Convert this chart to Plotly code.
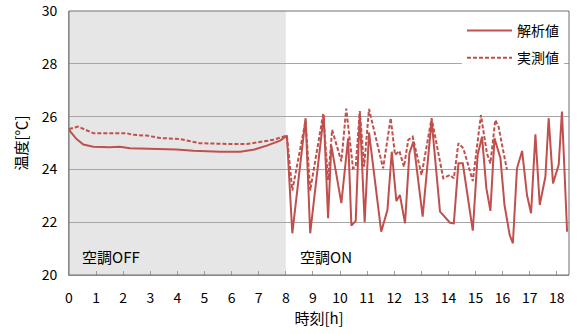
import plotly.graph_objects as go

# ---- data ----
calc_time = [0, 0.28, 0.53, 0.9, 1.5, 1.88, 2.25, 3.36, 3.97, 4.59, 5.57, 6.31, 6.8, 7.3, 7.79, 8.04,
             8.24, 8.73, 8.90, 9.40, 9.56, 9.68, 10.05, 10.30, 10.42, 10.58, 10.73, 10.91, 11.07, 11.52,
             11.75, 11.91, 12.08, 12.21, 12.40, 12.56, 12.71, 13.05, 13.38, 13.69, 14.06, 14.20, 14.37,
             14.53, 14.90, 15.08, 15.24, 15.40, 15.55, 15.70, 15.92, 16.07, 16.26, 16.38, 16.53, 16.72,
             16.90, 17.05, 17.21, 17.37, 17.58, 17.70, 17.86, 18.07, 18.19, 18.38]
calc_temp = [25.5, 25.15, 24.94, 24.86, 24.84, 24.86, 24.8, 24.78, 24.75, 24.71, 24.67, 24.67, 24.74, 24.9, 25.09, 25.28,
             21.58, 25.94, 21.58, 26.06, 22.15, 24.9, 22.72, 25.18, 21.87, 22.05, 26.13, 22.0, 25.4, 21.64,
             22.46, 24.67, 22.8, 23.03, 21.96, 24.61, 25.05, 22.21, 25.87, 22.4, 21.98, 21.96, 24.23,
             24.23, 21.68, 24.55, 25.24, 23.29, 22.43, 25.18, 24.42, 22.65, 21.52, 21.2, 24.04, 24.7,
             23.03, 22.34, 25.33, 22.65, 23.73, 25.94, 23.47, 24.17, 26.19, 21.64]

meas_time = [0, 0.34, 0.9, 2.13, 2.36, 2.87, 3.36, 4.1, 4.83, 5.57, 6.06, 6.56, 7.05, 7.54, 8.04,
             8.24, 8.73, 8.90, 9.38, 9.56, 9.71, 10.05, 10.23, 10.48, 10.58, 10.73, 10.89, 11.07, 11.59,
             11.87, 12.03, 12.19, 12.36, 12.52, 12.68, 13.01, 13.38, 13.81, 14.06, 14.20, 14.37, 14.55,
             14.90, 15.20, 15.42, 15.55, 15.73, 15.85, 16.16]
meas_temp = [25.53, 25.62, 25.37, 25.37, 25.31, 25.28, 25.19, 25.15, 24.99, 24.96, 24.96, 24.96, 25.03, 25.12, 25.28,
             23.2, 25.85, 23.2, 26.1, 23.6, 25.5, 24.3, 26.3, 24.04, 24.1, 26.21, 24.1, 26.29, 24.04,
             25.94, 24.55, 24.7, 24.1, 25.12, 25.24, 23.79, 25.94, 23.66, 23.79, 23.66, 24.99, 24.8,
             23.56, 26.06, 24.61, 24.23, 25.87, 25.62, 23.98]

x_ticks = list(range(0, 19))
y_ticks = [20, 22, 24, 26, 28, 30]
ac_off_end = 8
series_names = ["解析値", "実測値"]
labels = ["空調OFF", "空調ON"]

RED = "#c0504d"
FONT = "Noto Sans CJK JP"

fig = go.Figure()
fig.add_trace(go.Scatter(x=calc_time, y=calc_temp, mode="lines", name=series_names[0],
                         line=dict(color=RED, width=2), legendgroup="a"))
fig.add_trace(go.Scatter(x=meas_time, y=meas_temp, mode="lines", name=series_names[1],
                         line=dict(color=RED, width=2, dash="4px,2px"), legendgroup="b"))

# AC-off shaded zone
fig.add_shape(type="rect", xref="x", yref="paper", x0=0, x1=ac_off_end, y0=0, y1=1,
              fillcolor="#e6e6e6", line_width=0, layer="below")
# plot-area border
fig.add_shape(type="rect", xref="paper", yref="paper", x0=0, x1=1, y0=0, y1=1,
              line=dict(color="#6e6e6e", width=1), fillcolor="rgba(0,0,0,0)")

fig.add_annotation(x=0.4, y=20.7, xref="x", yref="y", text=labels[0], showarrow=False,
                   xanchor="left", yanchor="middle", font=dict(size=15, color="#000000", family=FONT))
fig.add_annotation(x=8.45, y=20.7, xref="x", yref="y", text=labels[1], showarrow=False,
                   xanchor="left", yanchor="middle", font=dict(size=15, color="#000000", family=FONT))

fig.update_layout(
    width=577, height=334,
    margin=dict(l=69, r=8, t=11, b=59, autoexpand=False),
    paper_bgcolor="white", plot_bgcolor="white",
    font=dict(family=FONT, size=14, color="#000000"),
    showlegend=True,
    legend=dict(x=0.786, y=0.985, xanchor="left", yanchor="top", bgcolor="white",
                borderwidth=0, font=dict(size=14, family=FONT), itemwidth=45,
                tracegroupgap=6),
    xaxis=dict(range=[0, 18.45], tickvals=x_ticks, ticktext=[str(v) for v in x_ticks],
               showgrid=False, zeroline=False, showline=True, linecolor="#a0a0a0",
               ticks="inside", ticklen=4, tickcolor="#a0a0a0", ticklabelstandoff=10,
               automargin=False,
               title=dict(text="時刻[h]", font=dict(size=15), standoff=6)),
    yaxis=dict(range=[19.999, 30.001], tickvals=y_ticks, ticktext=[str(v) for v in y_ticks],
               showgrid=True, gridcolor="#a6a6a6",
               zeroline=False, showline=True, linecolor="#a0a0a0", ticks="",
               ticklabelstandoff=8, ticklabeloverflow="allow", automargin=False,
               title=dict(text="温度[℃]", font=dict(size=15), standoff=10)),
)

fig.write_html("out.html")
